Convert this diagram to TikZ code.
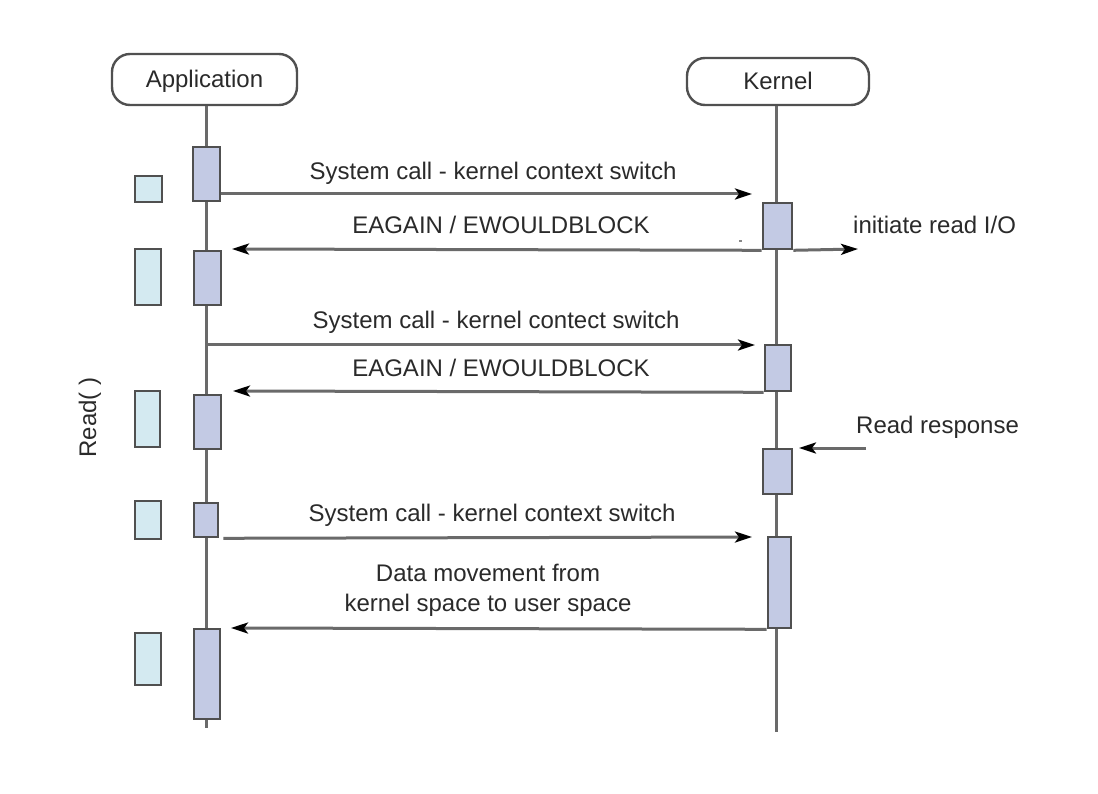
\documentclass[tikz,border=0pt]{standalone}
\usepackage{fontspec}
\setmainfont{Liberation Sans}
\usetikzlibrary{arrows.meta}

\definecolor{linegray}{HTML}{6A6A6A}
\definecolor{boxedge}{HTML}{505050}
\definecolor{actfill}{HTML}{C3CAE4}
\definecolor{waitfill}{HTML}{D4EAF1}
\definecolor{txt}{HTML}{2A2A2A}

\begin{document}
\begin{tikzpicture}[x=1pt,y=-1pt,
  lbl/.style={font=\fontsize{24}{29.5}\selectfont, text=txt, inner sep=0pt},
  head/.style={lbl, draw=boxedge, line width=2.4pt, rounded corners=18pt,
               fill=white, text height=17pt, text depth=0pt},
  act/.style={draw=boxedge, line width=2.6pt, fill=actfill, inner sep=0pt},
  waitbox/.style={draw=boxedge, line width=2.6pt, fill=waitfill, inner sep=0pt},
  life/.style={draw=linegray, line width=3pt},
  msg/.style={draw=linegray, line width=3pt,
              -{Stealth[length=17pt,width=11pt,inset=4pt,color=black]}},
]
% canvas
\useasboundingbox[fill=white] (0,0) rectangle (1098,794);

% participants
\node[head, minimum width=185pt, minimum height=51pt] (app) at (204.5,79.5) {Application};
\node[head, minimum width=182pt, minimum height=47pt] (kern) at (778,81.5) {Kernel};

% lifelines
\coordinate (append) at (206,728);
\coordinate (kernend) at (776,732);
\draw[life] (app.south -| 206,0) -- (append);
\draw[life] (kern.south -| 776,0) -- (kernend);

% activation bars on the application side
\node[act, minimum width=27pt, minimum height=54pt] (a1) at (206.5,174) {};
\node[act, minimum width=27pt, minimum height=54pt] (a2) at (207.5,278) {};
\node[act, minimum width=27pt, minimum height=54pt] (a3) at (207.5,422) {};
\node[act, minimum width=24pt, minimum height=34pt] (a4) at (206,520) {};
\node[act, minimum width=26pt, minimum height=90pt] (a5) at (207,674) {};

% activation bars on the kernel side
\node[act, minimum width=29pt, minimum height=46pt] (k1) at (777.5,226) {};
\node[act, minimum width=26pt, minimum height=46pt] (k2) at (778,368) {};
\node[act, minimum width=29pt, minimum height=45pt] (k3) at (777.5,471.5) {};
\node[act, minimum width=23pt, minimum height=91pt] (k4) at (779.5,582.5) {};

% waiting markers
\node[waitbox, minimum width=27pt, minimum height=26pt] (w1) at (148.5,189) {};
\node[waitbox, minimum width=26pt, minimum height=56pt] (w2) at (148,277) {};
\node[waitbox, minimum width=25pt, minimum height=56pt] (w3) at (147.5,419) {};
\node[waitbox, minimum width=26pt, minimum height=38pt] (w4) at (148,520) {};
\node[waitbox, minimum width=26pt, minimum height=52pt] (w5) at (148,659) {};

% free arrow ends
\coordinate (t1) at (752,194);
\coordinate (t2) at (232,249);
\coordinate (t3) at (858,249);
\coordinate (s4) at (206,345);
\coordinate (t4) at (755,345);
\coordinate (t5) at (233,391);
\coordinate (s6) at (866,448);
\coordinate (t6) at (799,448);
\coordinate (t7) at (752,537);
\coordinate (t8) at (231,628);

% messages
\draw[msg] (a1.east |- 0,194) -- (t1);
\draw[msg] (k1.south west) -- (t2);
\draw[msg] (k1.south east) -- (t3);
\draw[msg] (s4) -- (t4);
\draw[msg] (k2.south west) -- (t5);
\draw[msg] (s6) -- (t6);
\draw[msg] ([xshift=4pt]a4.south east) -- (t7);
\draw[msg] (k4.south west) -- (t8);

% stray mark near the first reply
\fill[linegray!80] (738.5,240.5) rectangle (741.5,242.5);

% message labels
\node[lbl, anchor=base] (l1) at (493,180) {System call - kernel context switch};
\node[lbl, anchor=base] (l2) at (501,234) {EAGAIN / EWOULDBLOCK};
\node[lbl, anchor=base west] (l3) at (853,234) {initiate read I/O};
\node[lbl, anchor=base] (l4) at (496,329) {System call - kernel contect switch};
\node[lbl, anchor=base] (l5) at (501,377) {EAGAIN / EWOULDBLOCK};
\node[lbl, anchor=base west] (l6) at (856,433) {Read response};
\node[lbl, anchor=base] (l7) at (492,521) {System call - kernel context switch};
\node[lbl, anchor=base, align=center] (l8) at (488,611) {Data movement from\\kernel space to user space};

% call name along the application side
\node[lbl, rotate=90, anchor=base] (rd) at (96,417.5) {Read( )};
\end{tikzpicture}
\end{document}
